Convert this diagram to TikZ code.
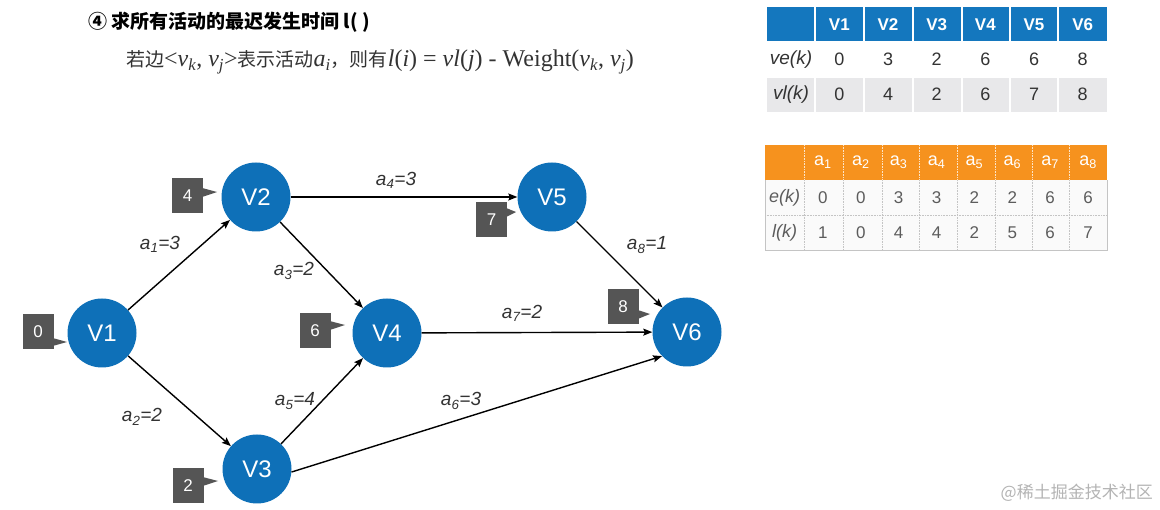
\documentclass[tikz,border=0pt]{standalone}
\usepackage{fontspec}
\setmainfont{Liberation Sans}
\newfontfamily\cjk{Noto Sans CJK SC}
\newfontfamily\lserif{Liberation Serif}
\usetikzlibrary{arrows.meta,calc}
\definecolor{nodeblue}{HTML}{0E70B8}
\definecolor{thblue}{HTML}{1477BE}
\definecolor{thorange}{HTML}{F6921E}
\definecolor{taggray}{HTML}{555555}
\definecolor{rowgray}{HTML}{E8E8EA}
\definecolor{textdark}{HTML}{333333}
\definecolor{cellgray}{HTML}{C4C4C4}
\definecolor{wmgray}{HTML}{B4B4B4}
\newcommand\lsit[1]{{\fontsize{24}{24}\selectfont\lserif\itshape #1}}
\newcommand\lsrm[1]{{\fontsize{24}{24}\selectfont\lserif #1}}
\begin{document}
\begin{tikzpicture}[x=1pt,y=-1pt,
  vert/.style={circle, fill=nodeblue, minimum size=69pt, inner sep=0pt, text=white,
    font=\fontsize{24}{24}\selectfont},
  tag/.style={rectangle, fill=taggray, minimum width=31pt, minimum height=35pt, inner sep=0pt,
    text=white, font=\fontsize{17}{17}\selectfont},
  edge/.style={draw=black, line width=1.4pt, -{Stealth[length=9pt,width=7pt,inset=1.5pt]}},
  elab/.style={text=textdark, inner sep=0pt, font=\fontsize{19}{19}\selectfont\itshape},
  thcell/.style={text=white, inner sep=0pt, font=\fontsize{17}{17}\selectfont\bfseries},
  tdcell/.style={text=textdark, inner sep=0pt, font=\fontsize{18}{18}\selectfont},
  ohcell/.style={text=white, inner sep=0pt, font=\fontsize{18}{18}\selectfont},
  odcell/.style={text=textdark!80, inner sep=0pt, font=\fontsize{17}{17}\selectfont}
]
\useasboundingbox (0,0) rectangle (1160,510);
\fill[white] (0,0) rectangle (1160,510);

% title and formula
\node[anchor=west, inner sep=0pt, text=black, font=\fontsize{19}{19}\selectfont\cjk\bfseries] (title) at (88,22)
  {④ 求所有活动的最迟发生时间 l( )};
\node[anchor=west, inner sep=0pt, text=textdark, font=\fontsize{19}{19}\selectfont\cjk] (formula) at (126,62)
  {若边\lsrm{<}\lsit{v\textsubscript{k}}\lsrm{, }\lsit{v\textsubscript{j}}\lsrm{>}表示活动\lsit{a\textsubscript{i}}，则有\lsit{l}\lsrm{(}\lsit{i}\lsrm{) = }\lsit{vl}\lsrm{(}\lsit{j}\lsrm{) - Weight(}\lsit{v\textsubscript{k}}\lsrm{, }\lsit{v\textsubscript{j}}\lsrm{)}};

% vertices
\node[vert] (V1) at (102,333) {V1};
\node[vert] (V2) at (256,197) {V2};
\node[vert] (V3) at (257,469) {V3};
\node[vert] (V4) at (387,333) {V4};
\node[vert] (V5) at (552,197) {V5};
\node[vert] (V6) at (687,332) {V6};

% tags
\node[tag] (b0) at (38,331.5) {0};
\node[tag] (b4) at (187.5,195.5) {4};
\node[tag] (b6) at (315,330.5) {6};
\node[tag] (b7) at (491.5,219.5) {7};
\node[tag] (b8) at (623,306.5) {8};
\node[tag] (b2) at (188,485.5) {2};
\coordinate (p0) at (67,342);
\coordinate (p4) at (217,192);
\coordinate (p6) at (345,325);
\coordinate (p7) at (516,212);
\coordinate (p8) at (650,314);
\coordinate (p2) at (218,481);
\fill[taggray] ($(b0.east)+(-1,6.5)$) -- (p0) -- ($(b0.east)+(-1,14.5)$) -- cycle;
\fill[taggray] ($(b4.east)+(-1,-7.5)$) -- (p4) -- ($(b4.east)+(-1,1.5)$) -- cycle;
\fill[taggray] ($(b6.east)+(-1,-9.5)$) -- (p6) -- ($(b6.east)+(-1,-0.5)$) -- cycle;
\fill[taggray] ($(b7.east)+(-1,-11.5)$) -- (p7) -- ($(b7.east)+(-1,-2.5)$) -- cycle;
\fill[taggray] ($(b8.east)+(-1,3.5)$) -- (p8) -- ($(b8.east)+(-1,12.5)$) -- cycle;
\fill[taggray] ($(b2.east)+(-1,-8.5)$) -- (p2) -- ($(b2.east)+(-1,0.5)$) -- cycle;

% edges
\draw[edge] (V1) -- (V2);
\draw[edge] (V1) -- (V3);
\draw[edge] (V2) -- (V4);
\draw[edge] (V2) -- (V5);
\draw[edge] (V3) -- (V4);
\draw[edge] (V3.-5) -- (V6.224);
\draw[edge] (V4) -- (V6);
\draw[edge] (V5) -- (V6);

% edge labels
\node[elab] (l1) at (160,244) {a\textsubscript{1}=3};
\node[elab] (l2) at (142,417) {a\textsubscript{2}=2};
\node[elab] (l3) at (294,271) {a\textsubscript{3}=2};
\node[elab] (l4) at (396,180) {a\textsubscript{4}=3};
\node[elab] (l5) at (295,401) {a\textsubscript{5}=4};
\node[elab] (l6) at (461,401) {a\textsubscript{6}=3};
\node[elab] (l7) at (522,313) {a\textsubscript{7}=2};
\node[elab] (l8) at (647,245) {a\textsubscript{8}=1};

% table 1
\fill[thblue] (767,7) rectangle (1107,42);
\fill[white] (767,42) rectangle (1107,77);
\fill[rowgray] (767,77) rectangle (1107,112);
\foreach \x in {815,864,913,962,1010,1058} \draw[white, line width=1.5pt] (\x,7) -- (\x,112);
\draw[white, line width=1.5pt] (767,77) -- (1107,77);
\draw[white, line width=1.5pt] (767,42) -- (1107,42);
\node[tdcell, font=\fontsize{19}{19}\selectfont\itshape] (rve) at (791,59.5) {ve(k)};
\node[tdcell, font=\fontsize{19}{19}\selectfont\itshape] (rvl) at (791,94.5) {vl(k)};
\foreach \i in {1,...,6} \node[thcell] (h\i) at ({815+48.67*(\i-0.5)},24.5) {V\i};
\foreach \v [count=\i] in {0,3,2,6,6,8} \node[tdcell] (e\i) at ({815+48.67*(\i-0.5)},59.5) {\v};
\foreach \v [count=\i] in {0,4,2,6,7,8} \node[tdcell] (f\i) at ({815+48.67*(\i-0.5)},94.5) {\v};

% table 2
\fill[thorange] (765,145) rectangle (1107,180);
\fill[black!2] (765,180) rectangle (1107,250);
\foreach \x in {804,843,882,919,957,995,1032,1069} {
  \draw[white!75!thorange, line width=0.6pt, densely dotted] (\x,145) -- (\x,180);
  \draw[cellgray, line width=0.6pt, densely dotted] (\x,180) -- (\x,250);
}
\draw[cellgray, line width=0.6pt, densely dotted] (765,215) -- (1107,215);
\draw[cellgray, line width=0.8pt] (765,180) -- (765,250) -- (1107,250) -- (1107,180);
\node[odcell, font=\fontsize{18}{18}\selectfont\itshape] (re) at (784.5,197.5) {e(k)};
\node[odcell, font=\fontsize{18}{18}\selectfont\itshape] (rl) at (784.5,232.5) {l(k)};
\foreach \i in {1,...,8} \node[ohcell] (ah\i) at ({804+37.875*(\i-0.5)},162.5) {a\textsubscript{\i}};
\foreach \v [count=\i] in {0,0,3,3,2,2,6,6} \node[odcell] (ae\i) at ({804+37.875*(\i-0.5)},197.5) {\v};
\foreach \v [count=\i] in {1,0,4,4,2,5,6,7} \node[odcell] (al\i) at ({804+37.875*(\i-0.5)},232.5) {\v};

% watermark
\node[anchor=east, inner sep=0pt, text=wmgray, font=\fontsize{17}{17}\selectfont\cjk] (wm) at (1153,493) {@稀土掘金技术社区};
\end{tikzpicture}
\end{document}
